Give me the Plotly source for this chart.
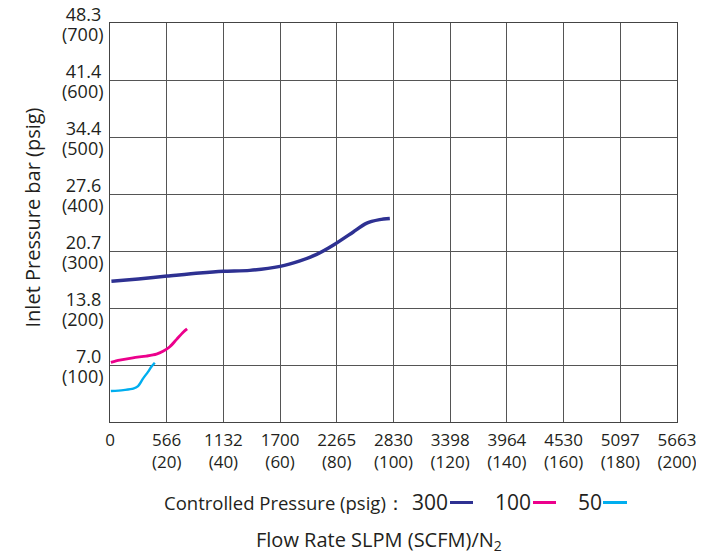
import plotly.graph_objects as go

# ---- data (flow in SCFM, inlet pressure in psig) ----
x_ticks_scfm = [0, 20, 40, 60, 80, 100, 120, 140, 160, 180, 200]
x_ticks_slpm = ["0", "566", "1132", "1700", "2265", "2830", "3398", "3964", "4530", "5097", "5663"]
y_ticks_psig = [100, 200, 300, 400, 500, 600, 700]
y_ticks_bar = ["7.0", "13.8", "20.7", "27.6", "34.4", "41.4", "48.3"]

flow_300 = [0.5, 10, 20.2, 31.6, 40, 49.3, 60, 67, 72.9, 78.7, 85.7, 90.4, 95.1, 98.7]
inlet_300 = [247, 251, 256, 261.6, 264.6, 266, 273, 282.6, 294, 310, 333, 348.6, 355, 357]

flow_100 = [0.3, 3.4, 8.1, 12.8, 16.4, 18.7, 21.1, 23.5, 25.9, 27.2]
inlet_100 = [104.6, 108.6, 112.7, 115.6, 119, 124, 132, 145, 158, 163.5]

flow_50 = [0.3, 4.7, 8.2, 9.9, 11.7, 13.4, 14.6, 15.8]
inlet_50 = [54.3, 56, 58.4, 63, 76.5, 88, 97, 104]

series_names = ["300", "100", "50"]
series_colors = ["#2E3192", "#EC008C", "#00AEEF"]

FONT = "Open Sans"
TXT = "#231f20"

fig = go.Figure()
for xs, ys, name, col, w in [
    (flow_300, inlet_300, series_names[0], series_colors[0], 3.5),
    (flow_100, inlet_100, series_names[1], series_colors[1], 2.8),
    (flow_50, inlet_50, series_names[2], series_colors[2], 2.4),
]:
    fig.add_trace(go.Scatter(x=xs, y=ys, mode="lines", name=name,
                             line=dict(color=col, width=w, shape="spline", smoothing=0.8),
                             showlegend=False))

x_text = [x_ticks_slpm[0]] + [f"{a}<br>({b})" for a, b in zip(x_ticks_slpm[1:], x_ticks_scfm[1:])]

fig.update_layout(
    xaxis=dict(range=[0, 200], tickvals=x_ticks_scfm, ticktext=x_text, automargin=False,
               showgrid=True, gridcolor="#555555", gridwidth=1.2,
               showline=True, linecolor="#444444", linewidth=1.3, mirror=True,
               ticks="", zeroline=False, ticklabelstandoff=2,
               tickfont=dict(family=FONT, size=17, color=TXT)),
    yaxis=dict(range=[0, 700], tickvals=y_ticks_psig, ticktext=y_ticks_bar, automargin=False,
               showgrid=True, gridcolor="#555555", gridwidth=1.2,
               showline=True, linecolor="#444444", linewidth=1.3, mirror=True,
               ticks="", zeroline=False, ticklabelshift=-8, ticklabelstandoff=4,
               ticklabeloverflow="allow",
               tickfont=dict(family=FONT, size=18, color=TXT)),
)

# the page body adds an 8px offset; layout positions below are given in screen pixels
W, H, OFF = 704, 552, 8
L, R, T, B = 102, 35, 15, 138
pw, ph = W - L - R, H - T - B

def px(x):
    return (x - OFF - L) / pw

def py(y):
    return (H - B - (y - OFF)) / ph

ann = []
# second line of the y tick labels (psig)
for v in y_ticks_psig:
    ann.append(dict(text=f"({v})", x=0, y=v, xref="paper", yref="y", xanchor="right", yanchor="middle",
                    xshift=-4, yshift=-11, showarrow=False, font=dict(family=FONT, size=18, color=TXT)))
ann.append(dict(text="Inlet Pressure bar (psig)", x=px(32), y=py(217.5), xref="paper", yref="paper",
                xanchor="center", yanchor="middle",
                textangle=-90, showarrow=False, font=dict(family=FONT, size=20, color=TXT)))
ann.append(dict(text="Flow Rate SLPM (SCFM)/N<sub>2</sub>", x=px(379), y=py(540), xref="paper", yref="paper",
                xanchor="center", yanchor="middle",
                showarrow=False, font=dict(family=FONT, size=20, color=TXT)))
ann.append(dict(text="Controlled Pressure (psig)：", x=px(407), y=py(502), xref="paper", yref="paper",
                xanchor="right", yanchor="middle", showarrow=False, font=dict(family=FONT, size=18.5, color=TXT)))
label_x = [410, 493, 576]
line_x = [(450, 473), (533, 556), (603, 627)]
shapes = []
for name, col, lx, (a, b) in zip(series_names, series_colors, label_x, line_x):
    ann.append(dict(text=name, x=px(lx), y=py(502), xref="paper", yref="paper",
                    xanchor="left", yanchor="middle", showarrow=False, font=dict(family=FONT, size=21, color=TXT)))
    shapes.append(dict(type="line", xref="paper", yref="paper", x0=px(a), x1=px(b),
                       y0=py(502.5), y1=py(502.5), line=dict(color=col, width=3)))

fig.update_layout(width=W, height=H, margin=dict(l=L, r=R, t=T, b=B),
                  paper_bgcolor="white", plot_bgcolor="white",
                  annotations=ann, shapes=shapes, showlegend=False)

fig.write_html("out.html")
